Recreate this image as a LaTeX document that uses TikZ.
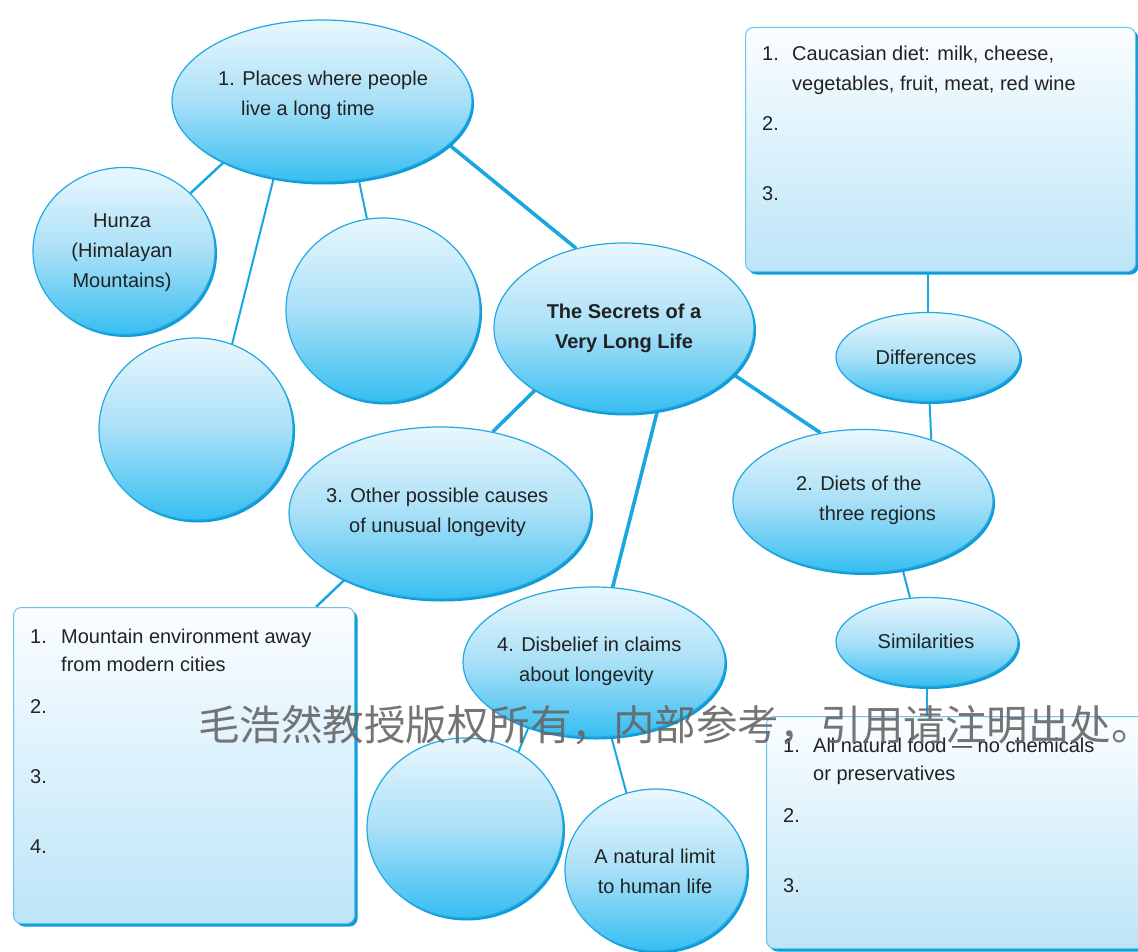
\documentclass[tikz,border=0pt]{standalone}
\usepackage{fontspec}
\setmainfont{Liberation Sans}
\newfontfamily\cjkwm{Noto Sans CJK SC}
\usetikzlibrary{shapes.geometric,shadows,backgrounds}
\definecolor{lineC}{HTML}{1AA7E1}
\definecolor{eTop}{HTML}{EAF7FD}
\definecolor{eMid}{HTML}{A9E0F7}
\definecolor{eBot}{HTML}{36BEF1}
\definecolor{eBorder}{HTML}{22A9E3}
\definecolor{eShadow}{HTML}{0E9CD8}
\definecolor{bTop}{HTML}{FBFEFF}
\definecolor{bBot}{HTML}{BCE5F8}
\definecolor{bBorder}{HTML}{66C4EE}
\definecolor{txt}{HTML}{222222}
\definecolor{wmc}{HTML}{666666}
\begin{document}
\begin{tikzpicture}[x=1pt,y=-1pt,
  bubble/.style={ellipse, draw=eBorder, line width=1.2pt, top color=eTop, bottom color=eBot, middle color=eMid, inner sep=0pt,
    drop shadow={shadow xshift=2pt, shadow yshift=-2.5pt, fill=eShadow, opacity=1}},
  boxnode/.style={rectangle, rounded corners=8pt, draw=bBorder, line width=1pt, top color=bTop, bottom color=bBot, inner sep=0pt, anchor=north west,
    drop shadow={shadow xshift=3pt, shadow yshift=-3pt, fill=eShadow, opacity=1}},
  lbl/.style={inner sep=0pt, text=txt, font=\fontsize{20}{30}\selectfont},
  item/.style={lbl, anchor=base west},
  thickc/.style={draw=lineC, line width=3.6pt},
  medc/.style={draw=lineC, line width=2.5pt},
  thinc/.style={draw=lineC, line width=2pt},
  wm/.style={inner sep=0pt, anchor=base west, text=wmc, text opacity=0.9, font=\cjkwm\fontsize{41.5}{44}\selectfont}
]
\useasboundingbox (0,0) rectangle (1138,952);

% boxes
\node[boxnode, minimum width=390pt, minimum height=244pt] (boxA) at (745,27) {};
\node[boxnode, minimum width=341pt, minimum height=316pt] (boxL) at (13,607) {};
\node[boxnode, minimum width=390pt, minimum height=232pt] (boxC) at (766,716) {};

% ellipses
\node[bubble, minimum width=300pt, minimum height=162pt] (places) at (322,101) {};
\node[bubble, minimum width=182pt, minimum height=167pt] (hunza) at (124,251) {};
\node[bubble, minimum width=194pt, minimum height=182pt] (leftc) at (196,429) {};
\node[bubble, minimum width=194pt, minimum height=184pt] (midc) at (383,310) {};
\node[bubble, minimum width=260pt, minimum height=170pt] (central) at (624,328) {};
\node[bubble, minimum width=184pt, minimum height=89pt] (diff) at (928,357) {};
\node[bubble, minimum width=260pt, minimum height=143pt] (diets) at (863,501) {};
\node[bubble, minimum width=182pt, minimum height=89pt] (simil) at (927,642) {};
\node[bubble, minimum width=302pt, minimum height=172pt] (other) at (440,513) {};
\node[bubble, minimum width=262pt, minimum height=150pt] (disb) at (594,662) {};
\node[bubble, minimum width=196pt, minimum height=180pt] (botc) at (465,828) {};
\node[bubble, minimum width=182pt, minimum height=162pt] (limit) at (656,870) {};

\coordinate (lbjoin) at (316,607);

% connectors
\begin{scope}[on background layer]
\draw[medc] (places.212) -- (hunza.41);
\draw[thinc] (places.238) -- (leftc.67);
\draw[thinc] (places.295) -- (midc.100);
\draw[thickc] (places.341) -- (central.121);
\draw[thickc] (central.215) -- (other.57);
\draw[thickc] (central.292) -- (disb.76);
\draw[thickc] (central.337) -- (diets.122);
\draw[thinc] (diets.42) -- (diff.272);
\draw[thinc] (diff.north) -- (diff.north |- boxA.south);
\draw[thinc] (diets.300) -- (simil.111);
\draw[thinc] (simil.south) -- (simil.south |- boxC.north);
\draw[medc] (other.215) -- (lbjoin);
\draw[thinc] (disb.225) -- (botc.55);
\draw[thinc] (disb.283) -- (limit.111);
\end{scope}

% ellipse texts
\node[lbl, align=left, anchor=west] (tplaces) at (218,95) {1. Places where people\\\hspace*{23pt}live a long time};
\node[lbl, align=center] (thunza) at (122,253) {Hunza\\(Himalayan\\Mountains)};
\node[lbl, align=center, font=\fontsize{20}{30}\selectfont\bfseries] (tcentral) at (624,328) {The Secrets of a\\Very Long Life};
\node[lbl] (tdiff) at (926,357) {Differences};
\node[lbl, align=left, anchor=west] (tdiets) at (796,500) {2. Diets of the\\\hspace*{23pt}three regions};
\node[lbl] (tsimil) at (926,641) {Similarities};
\node[lbl, align=left, anchor=west] (tother) at (326,512) {3. Other possible causes\\\hspace*{23pt}of unusual longevity};
\node[lbl, align=left, anchor=west] (tdisb) at (497,661) {4. Disbelief in claims\\\hspace*{22pt}about longevity};
\node[lbl, align=center] (tlimit) at (655,871) {A natural limit\\to human life};

% box A text
\node[item] (a1n) at (762,61) {1.};
\node[item] (a1t) at (792,61) {Caucasian diet: milk, cheese,};
\node[item] (a1u) at (792,91) {vegetables, fruit, meat, red wine};
\node[item] (a2n) at (762,131) {2.};
\node[item] (a3n) at (762,201) {3.};

% box L text
\node[item] (l1n) at (30,643) {1.};
\node[item] (l1t) at (61,643) {Mountain environment away};
\node[item] (l1u) at (61,671) {from modern cities};
\node[item] (l2n) at (30,713) {2.};
\node[item] (l3n) at (30,783) {3.};
\node[item] (l4n) at (30,853) {4.};

% box C text
\node[item] (c1n) at (783,752) {1.};
\node[item] (c1t) at (813,752) {All natural food — no chemicals};
\node[item] (c1u) at (813,780) {or preservatives};
\node[item] (c2n) at (783,822) {2.};
\node[item] (c3n) at (783,892) {3.};

% watermark
\node[wm] (wmark) at (198,740) {毛浩然教授版权所有，内部参考，引用请注明出处。};
\end{tikzpicture}
\end{document}
